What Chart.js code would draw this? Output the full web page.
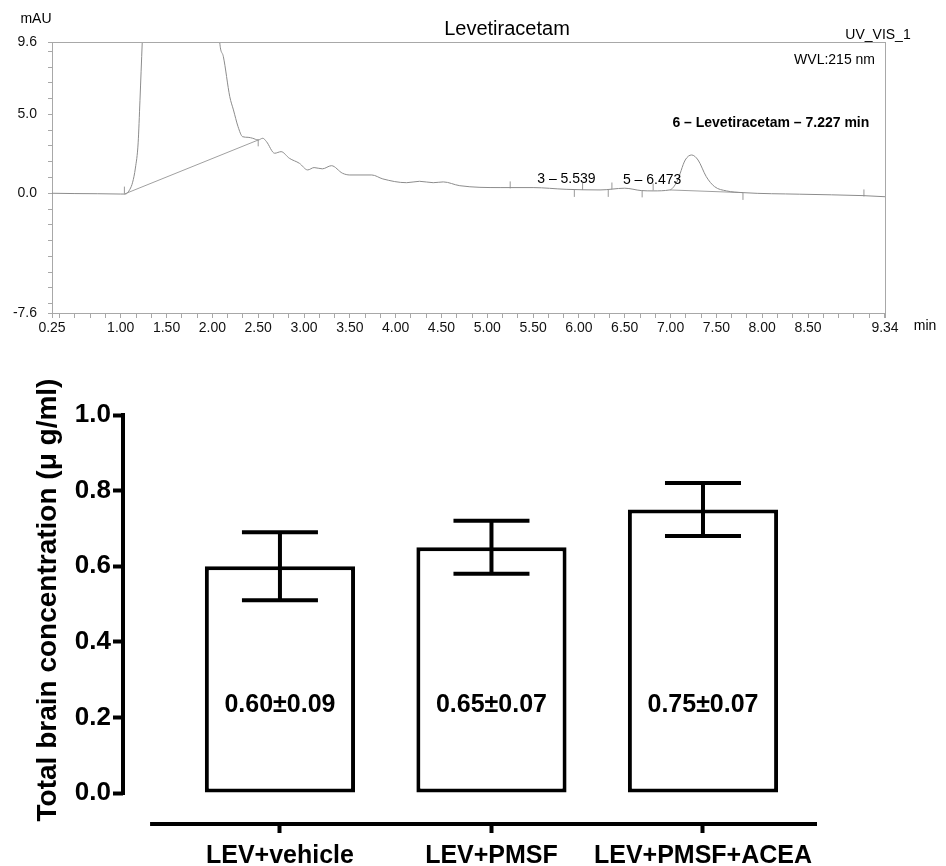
<!DOCTYPE html>
<html>
<head>
<meta charset="utf-8">
<script src="https://cdn.jsdelivr.net/npm/chart.js@4.4.0/dist/chart.umd.min.js"></script>
<style>
  body { margin: 0; background: #fff; }
  #wrap { position: relative; width: 946px; height: 866px; overflow: hidden; }
  canvas { position: absolute; left: 0; }
  #chromChart { top: 0; }
  #barChart { top: 345px; }
</style>
</head>
<body>
<div id="wrap">
  <canvas id="chromChart" width="946" height="345"></canvas>
  <canvas id="barChart" width="946" height="521"></canvas>
</div>
<script>
// --- chromatogram (time in min, signal in mAU)
const traceTime = [0.25, 0.50, 0.75, 1.00, 1.05, 1.10, 1.13, 1.16, 1.19, 1.21, 1.235, 1.26, 1.50, 1.80, 2.05,
  2.08, 2.12, 2.19, 2.23, 2.28, 2.33, 2.39, 2.44, 2.50, 2.55, 2.59, 2.68, 2.75, 2.84, 2.95, 3.04, 3.11,
  3.20, 3.30, 3.42, 3.50, 3.74, 3.86, 4.12, 4.26, 4.41, 4.52, 4.70, 5.14, 5.50, 5.86, 6.23, 6.50, 6.68,
  6.81, 6.99, 7.07, 7.16, 7.23, 7.30, 7.39, 7.48, 7.61, 7.79, 8.41, 9.10, 9.34];
const traceAbs = [0.00, -0.02, -0.03, -0.05, -0.05, 0.25, 0.70, 1.60, 3.20, 5.90, 9.60, 13.0, 40.0, 30.0, 13.0,
  9.60, 8.67, 6.13, 5.29, 4.23, 3.59, 3.55, 3.49, 3.38, 3.49, 3.28, 2.54, 2.64, 2.22, 1.90, 1.48, 1.63,
  1.55, 1.75, 1.27, 1.16, 1.16, 0.91, 0.67, 0.76, 0.67, 0.72, 0.48, 0.36, 0.36, 0.25, 0.21, 0.32, 0.17,
  0.15, 0.21, 0.74, 2.11, 2.43, 2.11, 1.05, 0.42, 0.15, 0.04, -0.06, -0.15, -0.22];

// integration baselines (null = gap)
const baseTime = [1.04, 2.50, 5.00, 6.99, 7.79];
const baseAbs = [-0.05, 3.38, null, 0.21, 0.04];

// peak start/end marks
const delimTime = [1.04, 2.50, 5.25, 5.95, 6.04, 6.32, 6.36, 6.69, 6.81, 7.79, 9.11];
const delimAbs = [0.20, 3.20, 0.53, -0.01, 0.43, -0.01, 0.46, -0.04, 0.40, -0.20, 0.02];

const peakText = ['3 – 5.539', '5 – 6.473', '6 – Levetiracetam – 7.227 min'];
const peakTime = [5.545, 6.48, 7.02];
const peakAbs = [0.91, 0.84, 4.46];
const peakBold = [false, false, true];

const chromXLabels = ['0.25', '1.00', '1.50', '2.00', '2.50', '3.00', '3.50', '4.00', '4.50', '5.00',
  '5.50', '6.00', '6.50', '7.00', '7.50', '8.00', '8.50', '9.34'];
const chromYLabels = ['9.6', '5.0', '0.0', '-7.6'];

// --- brain concentration
const groups = ['LEV+vehicle', 'LEV+PMSF', 'LEV+PMSF+ACEA'];
const meanConc = [0.60, 0.65, 0.75];
const sdConc = [0.09, 0.07, 0.07];
const concYTicks = [0.0, 0.2, 0.4, 0.6, 0.8, 1.0];

const FONT = '"Liberation Sans", Arial, Helvetica, sans-serif';

function pts(xs, ys) {
  return xs.map((x, i) => ({ x: x, y: ys[i] }));
}

const chromDecor = {
  id: 'chromDecor',
  afterDraw(chart) {
    const { ctx, chartArea: a, scales: { x, y } } = chart;
    ctx.save();
    ctx.strokeStyle = '#a8a8a8';
    ctx.lineWidth = 1;
    ctx.beginPath();
    ctx.moveTo(a.left, a.top + 0.5);
    ctx.lineTo(a.right + 1, a.top + 0.5);
    ctx.moveTo(a.right + 0.5, a.top);
    ctx.lineTo(a.right + 0.5, a.bottom);
    ctx.stroke();

    ctx.fillStyle = '#000';
    ctx.textBaseline = 'middle';
    ctx.font = '20px ' + FONT;
    ctx.textAlign = 'center';
    ctx.fillText('Levetiracetam', 507, 29);
    ctx.font = '14px ' + FONT;
    ctx.fillText('mAU', 36, 19);
    ctx.fillText('UV_VIS_1', 878, 35);
    ctx.fillText('min', 925, 326);
    ctx.textAlign = 'right';
    ctx.fillText('WVL:215 nm', 875, 60);

    ctx.textAlign = 'left';
    peakText.forEach((t, i) => {
      ctx.font = (peakBold[i] ? 'bold ' : '') + '14px ' + FONT;
      ctx.fillText(t, x.getPixelForValue(peakTime[i]), y.getPixelForValue(peakAbs[i]));
    });
    ctx.restore();
  }
};

const xMinor = [0.25];
for (let k = 2; k <= 56; k++) xMinor.push(k / 6);
xMinor.push(9.34);

new Chart(document.getElementById('chromChart'), {
  type: 'line',
  data: {
    datasets: [
      {
        data: pts(traceTime, traceAbs),
        borderColor: '#8c8c8c',
        borderWidth: 1,
        pointRadius: 0,
        cubicInterpolationMode: 'monotone'
      },
      {
        data: pts(baseTime, baseAbs),
        borderColor: '#a0a0a0',
        borderWidth: 1,
        pointRadius: 0,
        spanGaps: false
      },
      {
        type: 'scatter',
        data: pts(delimTime, delimAbs),
        showLine: false,
        pointStyle: 'line',
        rotation: 90,
        pointRadius: 3.5,
        borderColor: '#999',
        borderWidth: 1
      }
    ]
  },
  options: {
    responsive: false,
    animation: false,
    layout: { padding: { top: 42, right: 61, left: 0, bottom: 0 } },
    plugins: { legend: { display: false }, tooltip: { enabled: false } },
    scales: {
      x: {
        type: 'linear',
        min: 0.25,
        max: 9.34,
        afterFit(s) { s.height = 32; },
        afterBuildTicks(s) { s.ticks = xMinor.map(v => ({ value: v })); },
        ticks: {
          autoSkip: false,
          maxRotation: 0,
          minRotation: 0,
          padding: 2,
          color: '#111',
          font: { family: FONT, size: 14 },
          callback: v => chromXLabels.find(l => Math.abs(parseFloat(l) - v) < 0.002) || ''
        },
        grid: { drawOnChartArea: false, tickLength: 5, tickColor: '#a8a8a8' },
        border: { color: '#a8a8a8' }
      },
      y: {
        min: -7.6,
        max: 9.6,
        afterFit(s) { s.width = 52; },
        afterBuildTicks(s) {
          const vals = chromYLabels.map(Number);
          for (let k = -7; k <= 9; k++) if (!vals.includes(k)) vals.push(k);
          vals.sort((p, q) => p - q);
          s.ticks = vals.map(v => ({ value: v }));
        },
        ticks: {
          autoSkip: false,
          padding: 11,
          color: '#111',
          font: { family: FONT, size: 14 },
          callback: v => chromYLabels.find(l => Math.abs(parseFloat(l) - v) < 0.001) || ''
        },
        grid: { drawOnChartArea: false, tickLength: 4, tickColor: '#a8a8a8' },
        border: { color: '#a8a8a8' }
      }
    }
  },
  plugins: [chromDecor]
});

const barDecor = {
  id: 'barDecor',
  afterDatasetsDraw(chart) {
    const { ctx, chartArea: a, scales: { x, y } } = chart;
    ctx.save();
    ctx.strokeStyle = '#000';
    ctx.lineWidth = 4;
    // axis lines
    ctx.beginPath();
    ctx.moveTo(a.left, y.getPixelForValue(0) + 2);
    ctx.lineTo(a.left, y.getPixelForValue(1.0) - 2);
    ctx.moveTo(x.getPixelForValue(-0.614), a.bottom);
    ctx.lineTo(a.right, a.bottom);
    ctx.stroke();

    // error bars
    const half = 38;
    meanConc.forEach((m, i) => {
      const cx = x.getPixelForValue(i);
      const yt = y.getPixelForValue(m + sdConc[i]);
      const yb = y.getPixelForValue(m - sdConc[i]);
      ctx.beginPath();
      ctx.moveTo(cx, yt);
      ctx.lineTo(cx, yb);
      ctx.moveTo(cx - half, yt);
      ctx.lineTo(cx + half, yt);
      ctx.moveTo(cx - half, yb);
      ctx.lineTo(cx + half, yb);
      ctx.stroke();
    });

    // value labels inside bars
    ctx.fillStyle = '#000';
    ctx.font = 'bold 25px ' + FONT;
    ctx.textAlign = 'center';
    ctx.textBaseline = 'middle';
    meanConc.forEach((m, i) => {
      ctx.fillText(m.toFixed(2) + '±' + sdConc[i].toFixed(2), x.getPixelForValue(i), y.getPixelForValue(0.233));
    });

    // y title
    ctx.translate(48, (y.getPixelForValue(0) + y.getPixelForValue(1)) / 2 - 4);
    ctx.rotate(-Math.PI / 2);
    ctx.font = 'bold 28px ' + FONT;
    ctx.fillText('Total brain concentration (μ g/ml)', 0, 0);
    ctx.restore();
  }
};

new Chart(document.getElementById('barChart'), {
  type: 'bar',
  data: {
    datasets: [{
      data: pts(groups.map((g, i) => i), meanConc),
      backgroundColor: '#fff',
      borderColor: '#000',
      borderWidth: 4,
      borderSkipped: false,
      barPercentage: 0.71,
      categoryPercentage: 1
    }]
  },
  options: {
    responsive: false,
    animation: false,
    layout: { padding: { top: 70, right: 129, left: 0, bottom: 0 } },
    plugins: { legend: { display: false }, tooltip: { enabled: false } },
    scales: {
      x: {
        type: 'linear',
        offset: false,
        min: -0.742,
        max: 2.539,
        afterFit(s) { s.height = 42; },
        afterBuildTicks(s) { s.ticks = groups.map((g, i) => ({ value: i })); },
        ticks: {
          autoSkip: false,
          maxRotation: 0,
          padding: 8,
          color: '#000',
          font: { family: FONT, size: 25, weight: 'bold' },
          callback: v => groups[v] || ''
        },
        grid: { offset: false, drawOnChartArea: false, tickLength: 9, tickWidth: 4, tickColor: '#000' },
        border: { display: false }
      },
      y: {
        min: -0.082,
        max: 1.0,
        afterFit(s) { s.width = 123; },
        afterBuildTicks(s) { s.ticks = concYTicks.map(v => ({ value: v })); },
        ticks: {
          autoSkip: false,
          padding: 2,
          color: '#000',
          font: { family: FONT, size: 26, weight: 'bold' },
          callback: v => v.toFixed(1)
        },
        grid: { drawOnChartArea: false, tickLength: 10, tickWidth: 4, tickColor: '#000' },
        border: { display: false }
      }
    }
  },
  plugins: [barDecor]
});
</script>
</body>
</html>
